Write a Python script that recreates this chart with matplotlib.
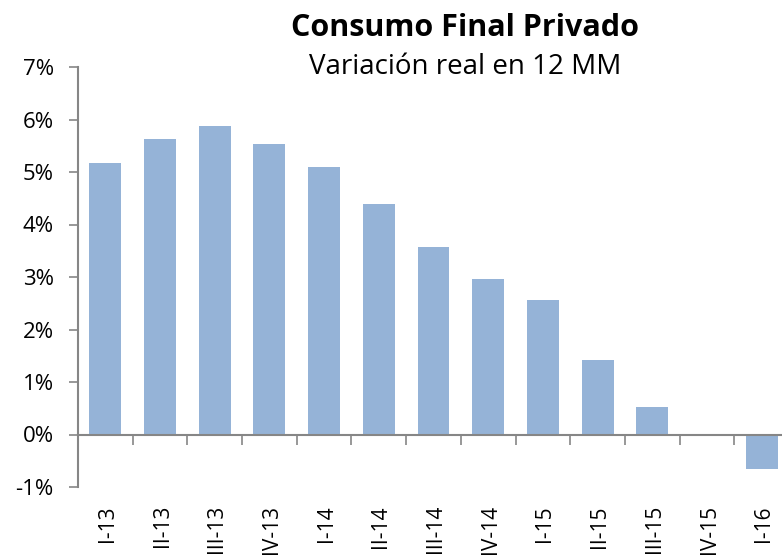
import matplotlib
matplotlib.use("Agg")
import matplotlib.pyplot as plt
from matplotlib.ticker import FuncFormatter, FixedLocator

quarters = ["I-13", "II-13", "III-13", "IV-13", "I-14", "II-14", "III-14",
            "IV-14", "I-15", "II-15", "III-15", "IV-15", "I-16"]
variation = [5.17, 5.63, 5.88, 5.53, 5.10, 4.39, 3.57, 2.96, 2.56, 1.42, 0.52, 0.0, -0.66]

bar_color = "#95B3D7"
axis_color = "#868686"

fig = plt.figure(figsize=(7.82, 5.60), dpi=100)
# axes runs a little past the right edge, as in the original
ax = fig.add_axes([78 / 782, 73 / 560, 711 / 782, 420 / 560])

x = list(range(len(quarters)))
ax.bar(x, variation, width=0.585, color=bar_color, zorder=2)

ax.set_xlim(-0.5, len(quarters) - 0.5)
ax.set_ylim(-1, 7)
ax.set_yticks(range(-1, 8))
ax.yaxis.set_major_formatter(FuncFormatter(lambda v, p: f"{v:.0f}%"))
ax.tick_params(axis="y", labelsize=16, length=6.5, width=1.2, color=axis_color, pad=11)
for lbl in ax.get_yticklabels():
    lbl.set_family("Open Sans")

# x axis sits on zero, ticks between categories
ax.spines["top"].set_visible(False)
ax.spines["right"].set_visible(False)
ax.spines["bottom"].set_position(("data", 0))
for s in ["left", "bottom"]:
    ax.spines[s].set_color(axis_color)
    ax.spines[s].set_linewidth(1.5)
ax.xaxis.set_major_locator(FixedLocator([i + 0.5 for i in x[:-1]]))
ax.tick_params(axis="x", length=7, width=1.2, color=axis_color,
               direction="out", labelbottom=False)

# category labels hang below the plot area
for i, q in zip(x, quarters):
    ax.annotate(q, xy=(i, 0), xycoords=ax.get_xaxis_transform(),
                xytext=(1.5, -13), textcoords="offset points",
                rotation=90, ha="center", va="top", fontsize=15,
                family="Open Sans", annotation_clip=False)

fig.text(0.595, 0.950, "Consumo Final Privado", ha="center", va="center",
         fontsize=22, fontweight="bold", family="Open Sans")
fig.text(0.595, 0.880, "Variación real en 12 MM", ha="center", va="center",
         fontsize=20, family="Open Sans")

fig.savefig("out.png", dpi=100)
